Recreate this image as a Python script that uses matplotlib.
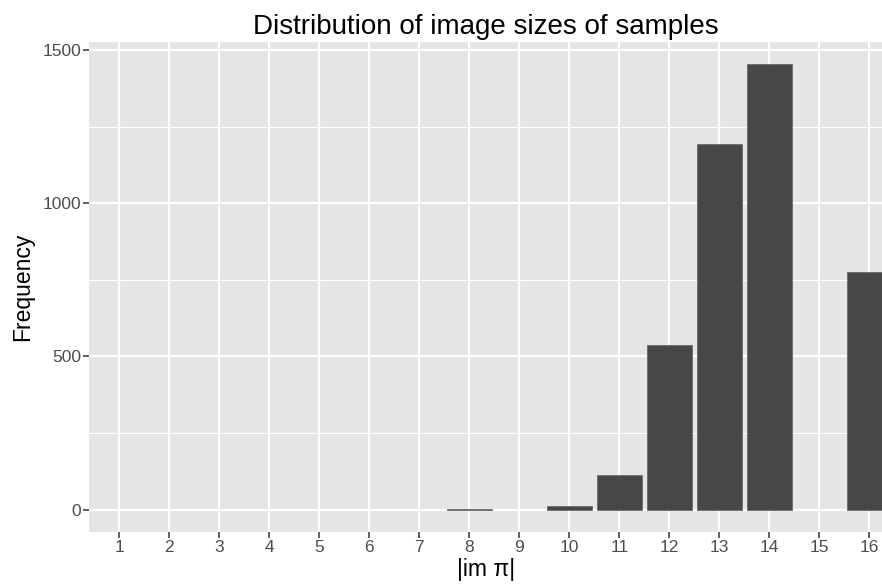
import matplotlib.pyplot as plt
from matplotlib.ticker import MultipleLocator

# image size counts
sizes = list(range(1, 17))
counts = [0, 0, 0, 0, 0, 0, 0, 1, 0, 11, 113, 538, 1194, 1453, 0, 774]

plt.rcParams['font.family'] = ['Liberation Sans', 'DejaVu Sans']

fig = plt.figure(figsize=(8.82, 5.88), dpi=100)
ax = fig.add_axes([89.3 / 882, 1 - 532 / 588, 1 - 89.3 / 882, (532 - 42.3) / 588])

ax.set_facecolor('#e5e5e5')
# only sizes that occur get a bar
xs = [s for s, c in zip(sizes, counts) if c > 0]
ys = [c for c in counts if c > 0]
ax.bar(xs, ys, width=0.9, color='#474747', edgecolor='#6a6a6a', linewidth=0.6, zorder=3)

ax.set_xlim(0.4, 16.254)
ax.set_ylim(-72.6, 1525)
ax.set_xticks(sizes)
ax.set_yticks([0, 500, 1000, 1500])
ax.yaxis.set_minor_locator(MultipleLocator(250))

ax.grid(which='major', color='white', linewidth=1.6, zorder=1)
ax.grid(which='minor', axis='y', color='white', linewidth=0.8, zorder=1)
ax.tick_params(which='major', length=4, width=1.1, color='#333333',
               labelcolor='#4d4d4d', labelsize=12.5, pad=2)
ax.tick_params(which='minor', length=0)
for s in ax.spines.values():
    s.set_visible(False)

ax.set_title('Distribution of image sizes of samples', fontsize=20, pad=6)
ax.set_xlabel('|im π|', fontsize=16.5, labelpad=2)
ax.set_ylabel('Frequency', fontsize=16.5, labelpad=6)

fig.savefig('out.png', dpi=100)
